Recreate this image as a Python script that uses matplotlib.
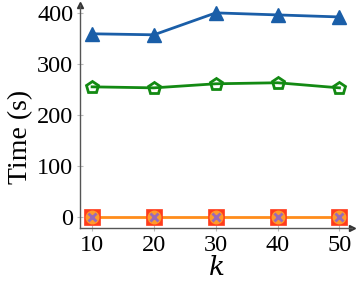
import numpy as np
import matplotlib
matplotlib.use("Agg")
import matplotlib.pyplot as plt

plt.rcParams["font.family"] = ["Liberation Serif", "DejaVu Serif"]
plt.rcParams["mathtext.fontset"] = "dejavuserif"

k = [10, 20, 30, 40, 50]
time_tri = [359, 357, 400, 396, 392]
time_pent = [255, 253, 261, 263, 253]
time_sq = [0, 0, 0, 0, 0]
time_circ = [0, 0, 0, 0, 0]
time_x = [0, 0, 0, 0, 0]

fig = plt.figure(figsize=(3.56, 2.86), dpi=100)
ax = fig.add_axes([0.225, 0.203, 0.765, 0.78])

ax.plot(k, time_tri, color="#1a5ea8", lw=2, marker="^", ms=10, zorder=3)
ax.plot(k, time_pent, color="#138a13", lw=2, marker="p", ms=9,
        mfc="none", mew=2, zorder=3)
ax.plot(k, time_sq, color="#ff8c1a", lw=2, marker="s", ms=11,
        mfc="#ff3c1c", mec="#ff3c1c", mew=0.5, zorder=3)
ax.plot(k, time_circ, lw=0, marker="o", ms=9,
        mfc="#ff9a2a", mec="#ff9a2a", zorder=4)
ax.plot(k, time_x, lw=0, marker="x", ms=5.5, mew=2, color="#9a6ab8", zorder=5)

ax.set_xlim(8.06, 52.1)
ax.set_ylim(-21.6, 415.7)
ax.set_xticks(k)
ax.set_yticks([0, 100, 200, 300, 400])
ax.tick_params(labelsize=17.5, direction="inout", length=4, color="#bbbbbb", pad=3)

for s in ["top", "right"]:
    ax.spines[s].set_visible(False)
for s in ["left", "bottom"]:
    ax.spines[s].set_color("#555555")
    ax.spines[s].set_linewidth(1)

# arrow heads at the axis ends
ax.plot(0, 1, marker="^", ms=4, color="#333333", transform=ax.transAxes, clip_on=False)
ax.plot(1, 0, marker=">", ms=4, color="#333333", transform=ax.transAxes, clip_on=False)

ax.set_ylabel("Time (s)", fontsize=20)
ax.yaxis.set_label_coords(-0.172, 0.41)
ax.set_xlabel("$k$", fontsize=19, labelpad=0)

fig.savefig("out.png", dpi=100)
